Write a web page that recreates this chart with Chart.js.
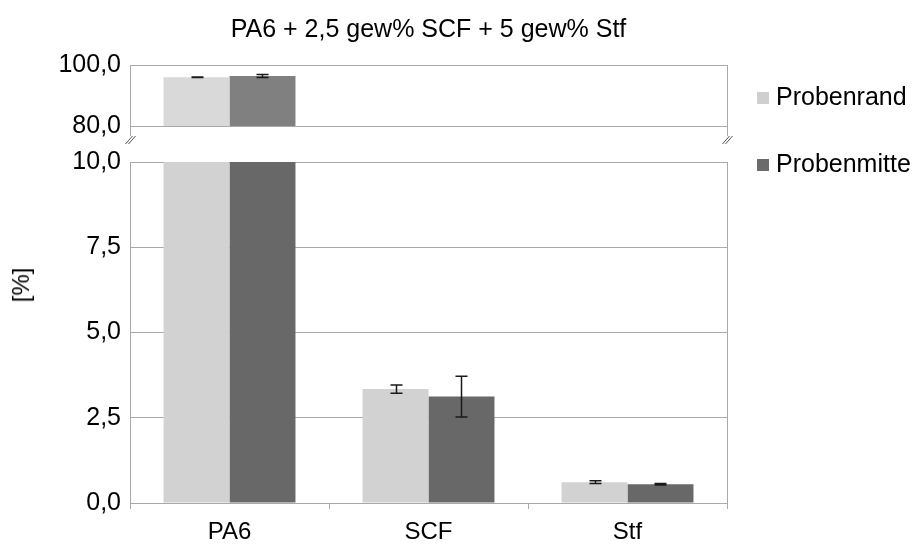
<!DOCTYPE html>
<html lang="de">
<head>
<meta charset="utf-8">
<title>PA6 + 2,5 gew% SCF + 5 gew% Stf</title>
<script src="https://cdn.jsdelivr.net/npm/chart.js@4.4.1/dist/chart.umd.min.js"></script>
<style>
  body { margin: 0; background: #fff; }
  #wrap { position: relative; width: 918px; height: 545px; background: #fff; font-family: 'Liberation Sans', Arial, sans-serif; color: #000; }
  canvas { position: absolute; left: 0; }
  #oben { top: 0; }
  #unten { top: 130px; }
  .leg { position: absolute; left: 757px; height: 30px; line-height: 30px; font-size: 25px; white-space: nowrap; }
  .leg i { display: inline-block; width: 12px; height: 12px; margin-right: 7px; vertical-align: middle; }
  #yTitel { position: absolute; left: 21px; top: 285px; font-size: 24px; transform: translate(-50%, -50%) rotate(-90deg); white-space: nowrap; }
</style>
</head>
<body>
<div id="wrap">
  <canvas id="oben" width="918" height="150"></canvas>
  <canvas id="unten" width="918" height="415"></canvas>
  <div id="yTitel">[%]</div>
</div>
<script>
// Messwerte (Anteile in %)
const KATEGORIEN = ['PA6', 'SCF', 'Stf'];
const RAND_WERTE = [96.0, 3.34, 0.61];
const RAND_FEHLER = [0.1, 0.12, 0.04];
const MITTE_WERTE = [96.4, 3.12, 0.55];
const MITTE_FEHLER = [0.5, 0.6, 0.02];
const TICKS_OBEN = [80, 100];
const TICKS_UNTEN = [0, 2.5, 5, 7.5, 10];

const TITEL = 'PA6 + 2,5 gew% SCF + 5 gew% Stf';
const GRAU = '#a9a9a9';

Chart.defaults.font.family = "'Liberation Sans', Arial, sans-serif";
Chart.defaults.color = '#000';

const komma = v => v.toFixed(1).replace('.', ',');

// Fehlerbalken (± Standardabweichung) über den Säulen
const fehlerBalken = {
  id: 'fehlerBalken',
  afterDatasetsDraw(chart) {
    const { ctx, chartArea: a } = chart;
    const y = chart.scales.y;
    ctx.save();
    ctx.beginPath();
    ctx.rect(a.left, a.top, a.right - a.left, a.bottom - a.top);
    ctx.clip();
    ctx.strokeStyle = '#1a1a1a';
    ctx.lineWidth = 1.5;
    chart.data.datasets.forEach((ds, i) => {
      chart.getDatasetMeta(i).data.forEach((bar, j) => {
        const v = ds.data[j], e = ds.fehler[j];
        const x = Math.round(bar.x) + 0.5;
        const yo = y.getPixelForValue(v + e);
        const yu = y.getPixelForValue(v - e);
        ctx.beginPath();
        ctx.moveTo(x, yo); ctx.lineTo(x, yu);
        ctx.moveTo(x - 6, yo); ctx.lineTo(x + 6, yo);
        ctx.moveTo(x - 6, yu); ctx.lineTo(x + 6, yu);
        ctx.stroke();
      });
    });
    ctx.restore();
  }
};

// rechte Rahmenkante und Achsenbruch-Markierung
const rahmen = {
  id: 'rahmen',
  afterDraw(chart, args, opts) {
    const { ctx, chartArea: a } = chart;
    const l = Math.round(a.left) + 0.5, r = Math.round(a.right) + 0.5;
    ctx.save();
    ctx.strokeStyle = GRAU;
    ctx.lineWidth = 1;
    ctx.beginPath();
    ctx.moveTo(r, a.top); ctx.lineTo(r, a.bottom + (opts.verlaengerung || 0));
    if (opts.bruch) {
      ctx.moveTo(l, a.bottom); ctx.lineTo(l, a.bottom + opts.verlaengerung);
    }
    ctx.stroke();
    if (opts.bruch) {
      ctx.strokeStyle = '#555';
      const yb = a.bottom + 14;
      ctx.beginPath();
      [l, r].forEach(x => {
        ctx.moveTo(x - 5, yb + 4); ctx.lineTo(x + 2, yb - 4);
        ctx.moveTo(x - 2, yb + 4); ctx.lineTo(x + 5, yb - 4);
      });
      ctx.stroke();
    }
    ctx.restore();
  }
};

function datensaetze(farbeRand, farbeMitte) {
  return [
    { label: 'Probenrand', data: RAND_WERTE, fehler: RAND_FEHLER, backgroundColor: farbeRand },
    { label: 'Probenmitte', data: MITTE_WERTE, fehler: MITTE_FEHLER, backgroundColor: farbeMitte },
  ];
}

const yAchse = (min, max, ticks) => ({
  min, max,
  afterBuildTicks: s => { s.ticks = ticks.map(v => ({ value: v })); },
  afterFit: s => { s.width = 130; },
  ticks: { font: { size: 25 }, padding: 9, callback: komma },
  grid: { color: GRAU, drawTicks: false },
  border: { color: GRAU },
});

const gemeinsam = {
  responsive: false,
  animation: false,
  datasets: { bar: { categoryPercentage: 0.663, barPercentage: 1 } },
};

// oberer Abschnitt 80–100 %
const oben = new Chart(document.getElementById('oben'), {
  type: 'bar',
  data: { labels: KATEGORIEN, datasets: datensaetze('#d9d9d9', '#808080') },
  plugins: [fehlerBalken, rahmen],
  options: {
    ...gemeinsam,
    layout: { padding: { left: 0, right: 191, top: 0, bottom: 17 } },
    scales: {
      x: { display: false },
      y: yAchse(80, 100, TICKS_OBEN),
    },
    plugins: {
      legend: { display: false },
      tooltip: { enabled: false },
      title: {
        display: true, text: TITEL, fullSize: false,
        font: { size: 25, weight: 'normal' },
        padding: { top: 15, bottom: 20 },
      },
      rahmen: { bruch: true, verlaengerung: 10 },
    },
  },
});

// unterer Abschnitt 0–10 %
const unten = new Chart(document.getElementById('unten'), {
  type: 'bar',
  data: { labels: KATEGORIEN, datasets: datensaetze('#d2d2d2', '#686868') },
  plugins: [fehlerBalken, rahmen],
  options: {
    ...gemeinsam,
    layout: { padding: { left: 0, right: 191, top: 32, bottom: 0 } },
    scales: {
      x: {
        afterFit: s => { s.height = 42; },
        ticks: { font: { size: 24 }, padding: 9 },
        grid: { drawOnChartArea: false, color: GRAU, tickLength: 6 },
        border: { color: GRAU },
      },
      y: yAchse(0, 10, TICKS_UNTEN),
    },
    plugins: {
      legend: { display: false },
      tooltip: { enabled: false },
      rahmen: { bruch: false, verlaengerung: 0 },
    },
  },
});

// Legende rechts neben dem Diagramm
const legFarben = ['#cfcfcf', '#6b6b6b'];
const legTops = [81, 148];
const wrap = document.getElementById('wrap');
unten.data.datasets.forEach((ds, i) => {
  const zeile = document.createElement('div');
  zeile.className = 'leg';
  zeile.style.top = legTops[i] + 'px';
  const box = document.createElement('i');
  box.style.background = legFarben[i];
  zeile.appendChild(box);
  zeile.appendChild(document.createTextNode(ds.label));
  wrap.appendChild(zeile);
});
</script>
</body>
</html>
